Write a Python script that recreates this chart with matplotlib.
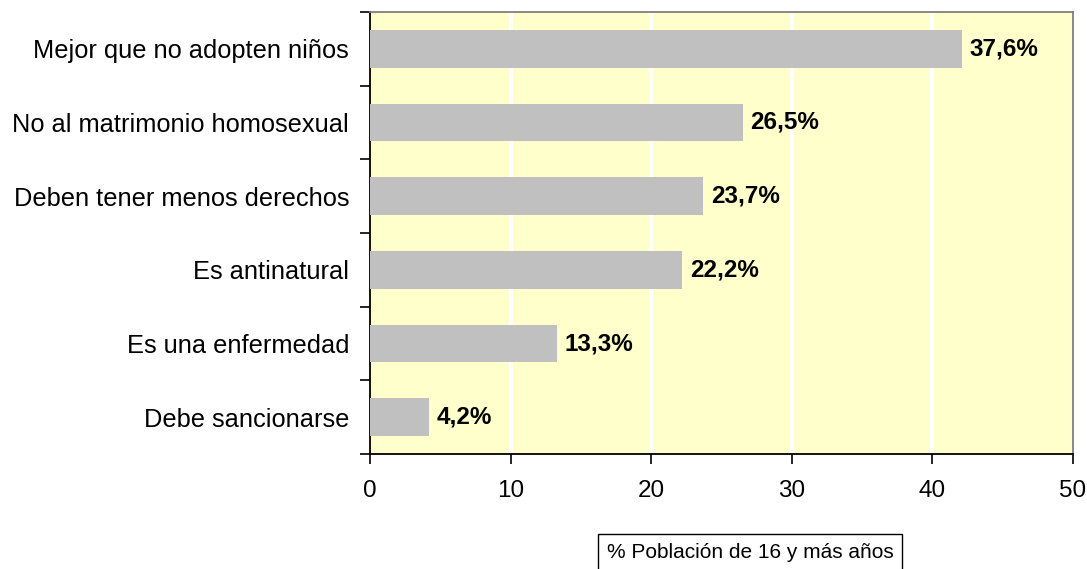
import matplotlib
matplotlib.use("Agg")
import matplotlib.pyplot as plt

categories = ["Mejor que no adopten niños", "No al matrimonio homosexual",
              "Deben tener menos derechos", "Es antinatural",
              "Es una enfermedad", "Debe sancionarse"]
bar_values = [42.1, 26.5, 23.7, 22.2, 13.3, 4.2]
label_texts = ["37,6%", "26,5%", "23,7%", "22,2%", "13,3%", "4,2%"]
xticks = [0, 10, 20, 30, 40, 50]
xlabel = "% Población de 16 y más años"

plt.rcParams['font.family'] = ['Liberation Sans', 'DejaVu Sans']

fig = plt.figure(figsize=(10.87, 5.69), dpi=100)
ax = fig.add_axes([370/1087, 1-454/569, (1073-370)/1087, (454-12)/569])
ax.set_facecolor("#FFFFCC")

n = len(categories)
ypos = list(range(n))
ax.barh(ypos, bar_values, height=0.515, color="#C0C0C0", zorder=3)
for y, v, t in zip(ypos, bar_values, label_texts):
    ax.text(v + 0.55, y, t, va="center", ha="left", fontsize=17.5,
            fontweight="bold", zorder=4)

ax.set_xlim(0, 50)
ax.set_ylim(n - 0.5, -0.5)
ax.set_xticks(xticks)
ax.set_xticklabels([str(x) for x in xticks], fontsize=17.5)
for x in xticks[1:-1]:
    ax.axvline(x, color="white", lw=3, zorder=1)

ax.set_yticks(ypos)
ax.set_yticklabels(categories, fontsize=18.3)
ax.tick_params(axis="y", which="major", length=0, pad=15)
ax.set_yticks([i - 0.5 for i in range(n + 1)], minor=True)
ax.tick_params(axis="y", which="minor", length=7, width=1.2, direction="out")
ax.tick_params(axis="x", length=7, width=1.2, direction="out", pad=12)

ax.spines["left"].set_color("black")
ax.spines["left"].set_linewidth(1.3)
ax.spines["bottom"].set_color("black")
ax.spines["bottom"].set_linewidth(1.3)
ax.spines["top"].set_color("#808080")
ax.spines["right"].set_color("#808080")
ax.spines["top"].set_linewidth(1.3)
ax.spines["right"].set_linewidth(1.3)

fig.text(750/1087, 1-552/569, xlabel, ha="center", va="center", fontsize=15,
         bbox=dict(boxstyle="square,pad=0.4", fc="white", ec="black", lw=1))

fig.savefig("out.png", dpi=100)
